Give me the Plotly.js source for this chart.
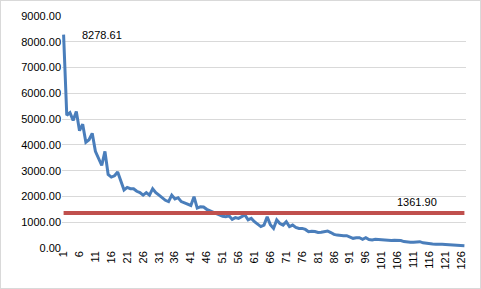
<!DOCTYPE html>
<html>
<head>
<meta charset="utf-8">
<script src="https://cdn.plot.ly/plotly-3.0.1.min.js"></script>
<style>
html,body{margin:0;padding:0;background:#fff;}
#chart{width:479px;height:287px;border:1px solid #d9d9d9;}
</style>
</head>
<body>
<div id="chart"></div>
<script>
const values = [
8278.61,5150,5250,4950,5300,4550,4800,4100,4200,4450,
3750,3450,3200,3750,2850,2750,2800,2950,2600,2250,
2350,2300,2300,2200,2150,2050,2150,2050,2300,2150,
2050,1950,1850,1800,2050,1900,1950,1800,1750,1680,
1650,1990,1550,1600,1590,1500,1450,1400,1320,1280,
1230,1215,1250,1110,1180,1150,1230,1280,1090,1150,
1020,920,830,890,1215,900,760,1090,950,890,
1020,830,890,800,760,760,720,630,650,640,
600,610,630,660,600,530,500,480,480,480,
420,375,400,400,340,400,330,310,340,330,
320,300,280,290,300,300,290,250,230,220,
220,230,245,200,180,170,155,150,160,150,
140,130,120,115,105,95,90
];
const categories = values.map((v,i)=>String(i+1));
const averageValue = 1361.90;
const averageSeries = categories.map(()=>averageValue);
const tickLabels = categories.filter((c,i)=>i%5===0);
const yTicks = [0,1000,2000,3000,4000,5000,6000,7000,8000,9000];

const font = {family:'"Liberation Sans", Arial, sans-serif', size:11, color:'#000'};

const traces = [
  {x:categories, y:values, type:'scatter', mode:'lines',
   line:{color:'#4a7ebb', width:3}, hoverinfo:'skip'},
  {x:categories, y:averageSeries, type:'scatter', mode:'lines',
   line:{color:'#c0504d', width:4}, hoverinfo:'skip'}
];

const layout = {
  width:479, height:287,
  margin:{l:61, r:14, t:15, b:40},
  paper_bgcolor:'#fff', plot_bgcolor:'#fff',
  showlegend:false,
  font:font,
  xaxis:{type:'category', range:[-0.5, categories.length-0.5],
    tickmode:'array', tickvals:tickLabels, ticktext:tickLabels,
    tickangle:-90, showgrid:false, showline:false, zeroline:false,
    ticks:'', tickfont:font, fixedrange:true},
  yaxis:{range:[0,9000], tickmode:'array', tickvals:yTicks,
    tickformat:'.2f', showgrid:true, gridcolor:'#d9d9d9', gridwidth:1,
    zeroline:false, showline:false, ticks:'', tickfont:font, fixedrange:true},
  annotations:[
    {x:categories[0], y:values[0], xref:'x', yref:'y', text:values[0].toFixed(2),
     showarrow:false, xanchor:'left', yanchor:'middle', xshift:13, yshift:0, font:font},
    {x:categories[110], y:averageValue, xref:'x', yref:'y', text:averageValue.toFixed(2),
     showarrow:false, xanchor:'center', yanchor:'bottom', yshift:3, font:font}
  ]
};

Plotly.newPlot('chart', traces, layout, {displayModeBar:false, staticPlot:true});
</script>
</body>
</html>
